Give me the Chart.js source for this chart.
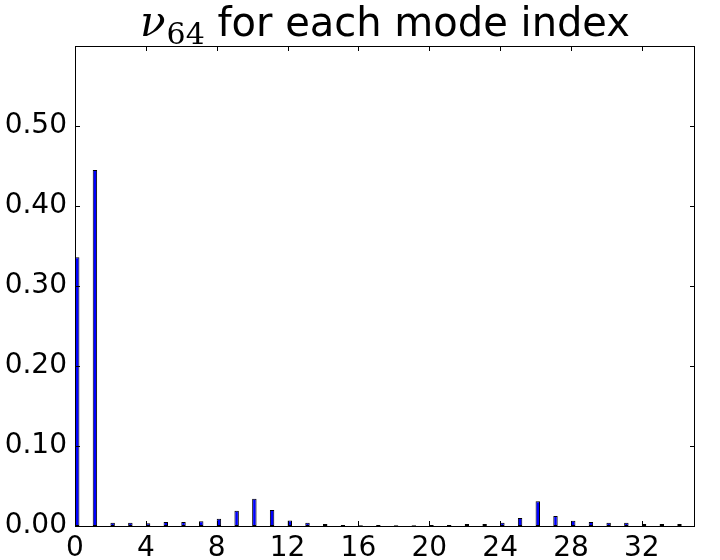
<!DOCTYPE html>
<html>
<head>
<meta charset="utf-8">
<script src="https://cdn.jsdelivr.net/npm/chart.js@4/dist/chart.umd.min.js"></script>
<style>
  body { margin: 0; background: #fff; }
  canvas { display: block; }
</style>
</head>
<body>
<canvas id="chart" width="720" height="560"></canvas>
<script>
// nu_64 per mode index
const modeIndex = [0, 1, 2, 3, 4, 5, 6, 7, 8, 9, 10, 11, 12, 13, 14, 15, 16, 17,
  18, 19, 20, 21, 22, 23, 24, 25, 26, 27, 28, 29, 30, 31, 32, 33, 34];
const nu64 = [0.336, 0.445, 0.004, 0.004, 0.0035, 0.005, 0.005, 0.006, 0.009, 0.019,
  0.034, 0.020, 0.007, 0.004, 0.0025, 0.0013, 0.001, 0.0012, 0.001, 0.001,
  0.0012, 0.0012, 0.0025, 0.0025, 0.004, 0.010, 0.031, 0.0125, 0.0067, 0.005,
  0.004, 0.004, 0.0025, 0.0025, 0.0025];
const xTicks = [0, 4, 8, 12, 16, 20, 24, 28, 32];
const yTicks = [0.0, 0.1, 0.2, 0.3, 0.4, 0.5];

const BAR_W = 0.25; // bars are edge aligned like old matplotlib

// frame + inward ticks on all four sides, plus the mathtext-ish title
const frame = {
  id: 'frame',
  afterDraw(chart) {
    const { ctx, chartArea: a, scales: { x, y } } = chart;
    ctx.save();
    ctx.strokeStyle = '#000';
    ctx.lineWidth = 1;
    ctx.strokeRect(a.left + 0.5, a.top + 0.5, a.right - a.left - 1, a.bottom - a.top);
    const len = 5;
    ctx.beginPath();
    xTicks.forEach(v => {
      const px = Math.round(x.getPixelForValue(v)) + 0.5;
      ctx.moveTo(px, a.bottom); ctx.lineTo(px, a.bottom - len);
      ctx.moveTo(px, a.top); ctx.lineTo(px, a.top + len);
    });
    yTicks.forEach(v => {
      const py = Math.round(y.getPixelForValue(v)) + 0.5;
      ctx.moveTo(a.left, py); ctx.lineTo(a.left + len, py);
      ctx.moveTo(a.right, py); ctx.lineTo(a.right - len, py);
    });
    ctx.stroke();

    // title
    const nuFont = 'italic 42px "DejaVu Serif"';
    const subFont = '30px "DejaVu Serif"';
    const textFont = '40px "DejaVu Sans"';
    const rest = ' for each mode index';
    ctx.font = nuFont; const wNu = ctx.measureText('\u03bd').width;
    ctx.font = subFont; const wSub = ctx.measureText('64').width;
    ctx.font = textFont; const wRest = ctx.measureText(rest).width;
    const total = wNu + 1 + wSub + wRest;
    let cx = (a.left + a.right) / 2 - total / 2;
    const base = 36;
    ctx.fillStyle = '#000';
    ctx.textBaseline = 'alphabetic';
    ctx.textAlign = 'left';
    ctx.font = nuFont; ctx.fillText('\u03bd', cx, base); cx += wNu + 1;
    ctx.font = subFont; ctx.fillText('64', cx, base + 8); cx += wSub;
    ctx.font = textFont; ctx.fillText(rest, cx, base);
    ctx.restore();
  }
};

new Chart(document.getElementById('chart'), {
  type: 'bar',
  data: {
    datasets: [{
      data: modeIndex.map((m, i) => ({ x: m + BAR_W / 2, y: nu64[i] })),
      backgroundColor: '#0000ff',
      borderColor: '#000000',
      borderWidth: 1,
      borderSkipped: false,
      barPercentage: BAR_W,
      categoryPercentage: 1
    }]
  },
  options: {
    responsive: false,
    animation: false,
    layout: { padding: { top: 46, right: 25, left: 0, bottom: 0 } },
    plugins: {
      legend: { display: false },
      tooltip: { enabled: false },
      title: { display: false }
    },
    scales: {
      x: {
        type: 'linear',
        min: 0,
        max: 35,
        offset: false,
        grid: { display: false, drawTicks: false, offset: false },
        border: { display: false },
        afterBuildTicks: s => { s.ticks = xTicks.map(v => ({ value: v })); },
        afterFit: s => { s.height = 34; },
        ticks: {
          color: '#000',
          padding: 6,
          maxRotation: 0,
          autoSkip: false,
          font: { family: 'DejaVu Sans', size: 28 },
          callback: v => String(v)
        }
      },
      y: {
        min: 0,
        max: 0.6,
        grid: { display: false, drawTicks: false },
        border: { display: false },
        afterBuildTicks: s => { s.ticks = yTicks.map(v => ({ value: v })); },
        afterFit: s => { s.width = 75; },
        ticks: {
          color: '#000',
          padding: 8,
          font: { family: 'DejaVu Sans', size: 28 },
          callback: v => Number(v).toFixed(2)
        }
      }
    }
  },
  plugins: [frame]
});
</script>
</body>
</html>
